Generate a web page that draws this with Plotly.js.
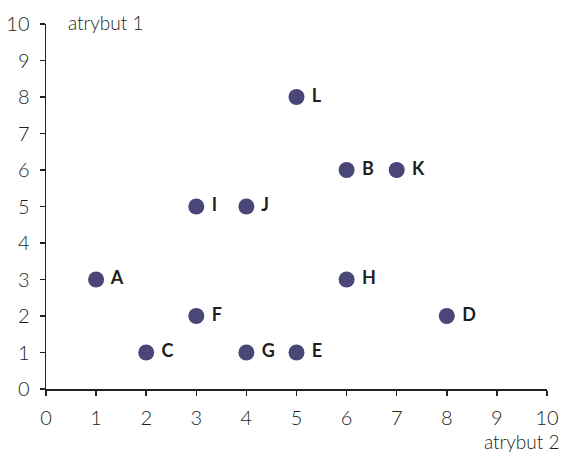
<!DOCTYPE html>
<html>
<head>
<meta charset="utf-8">
<script src="https://cdn.plot.ly/plotly-3.0.1.min.js"></script>
<style>html,body{margin:0;padding:0;background:#fff}#chart{width:564px;height:456px}</style>
</head>
<body>
<div id="chart"></div>
<script>
const labels = ["A","B","C","D","E","F","G","H","I","J","K","L"];
const attr2 = [1,6,2,8,5,3,4,6,3,4,7,5];
const attr1 = [3,6,1,2,1,2,1,3,5,5,6,8];
const tickVals = [0,1,2,3,4,5,6,7,8,9,10];
const xTitle = "atrybut 2";
const yTitle = "atrybut 1";

const ink = "#231f20";
const fontFam = "Lato, 'Open Sans', sans-serif";

const trace = {
  type: "scatter",
  mode: "markers+text",
  x: attr2,
  y: attr1,
  text: labels.map(l => " " + l),
  textposition: "middle right",
  textfont: {family: fontFam, size: 18, color: ink, weight: 700},
  marker: {size: 16, color: "#4a4678", line: {width: 0}},
  cliponaxis: false,
  hoverinfo: "none"
};

const layout = {
  width: 564, height: 456,
  margin: {l: 46, r: 17, t: 24, b: 67},
  paper_bgcolor: "#fff", plot_bgcolor: "#fff",
  showlegend: false,
  font: {family: fontFam, size: 20, color: ink},
  xaxis: {
    range: [0, 10], tickvals: tickVals, ticktext: tickVals.map(String),
    showgrid: false, zeroline: false, showline: true, linecolor: ink, linewidth: 1.5,
    ticks: "outside", ticklen: 5, tickwidth: 1.5, tickcolor: ink, ticklabelstandoff: 5,
    tickfont: {family: fontFam, size: 20, color: ink, weight: 300}, fixedrange: true
  },
  yaxis: {
    range: [0, 10], tickvals: tickVals, ticktext: tickVals.map(String),
    showgrid: false, zeroline: false, showline: true, linecolor: ink, linewidth: 1.5,
    ticks: "outside", ticklen: 5, tickwidth: 1.5, tickcolor: ink, ticklabelstandoff: 6,
    tickfont: {family: fontFam, size: 20, color: ink, weight: 300}, fixedrange: true
  },
  annotations: [
    {text: yTitle, xref: "paper", yref: "paper", x: 0.04, y: 1.005, xanchor: "left", yanchor: "middle",
     showarrow: false, font: {family: fontFam, size: 19, color: ink, weight: 300}},
    {text: xTitle, xref: "paper", yref: "paper", x: 1.028, y: -0.145, xanchor: "right", yanchor: "middle",
     showarrow: false, font: {family: fontFam, size: 19, color: ink, weight: 300}}
  ]
};

Plotly.newPlot("chart", [trace], layout, {staticPlot: true, displayModeBar: false});
</script>
</body>
</html>
